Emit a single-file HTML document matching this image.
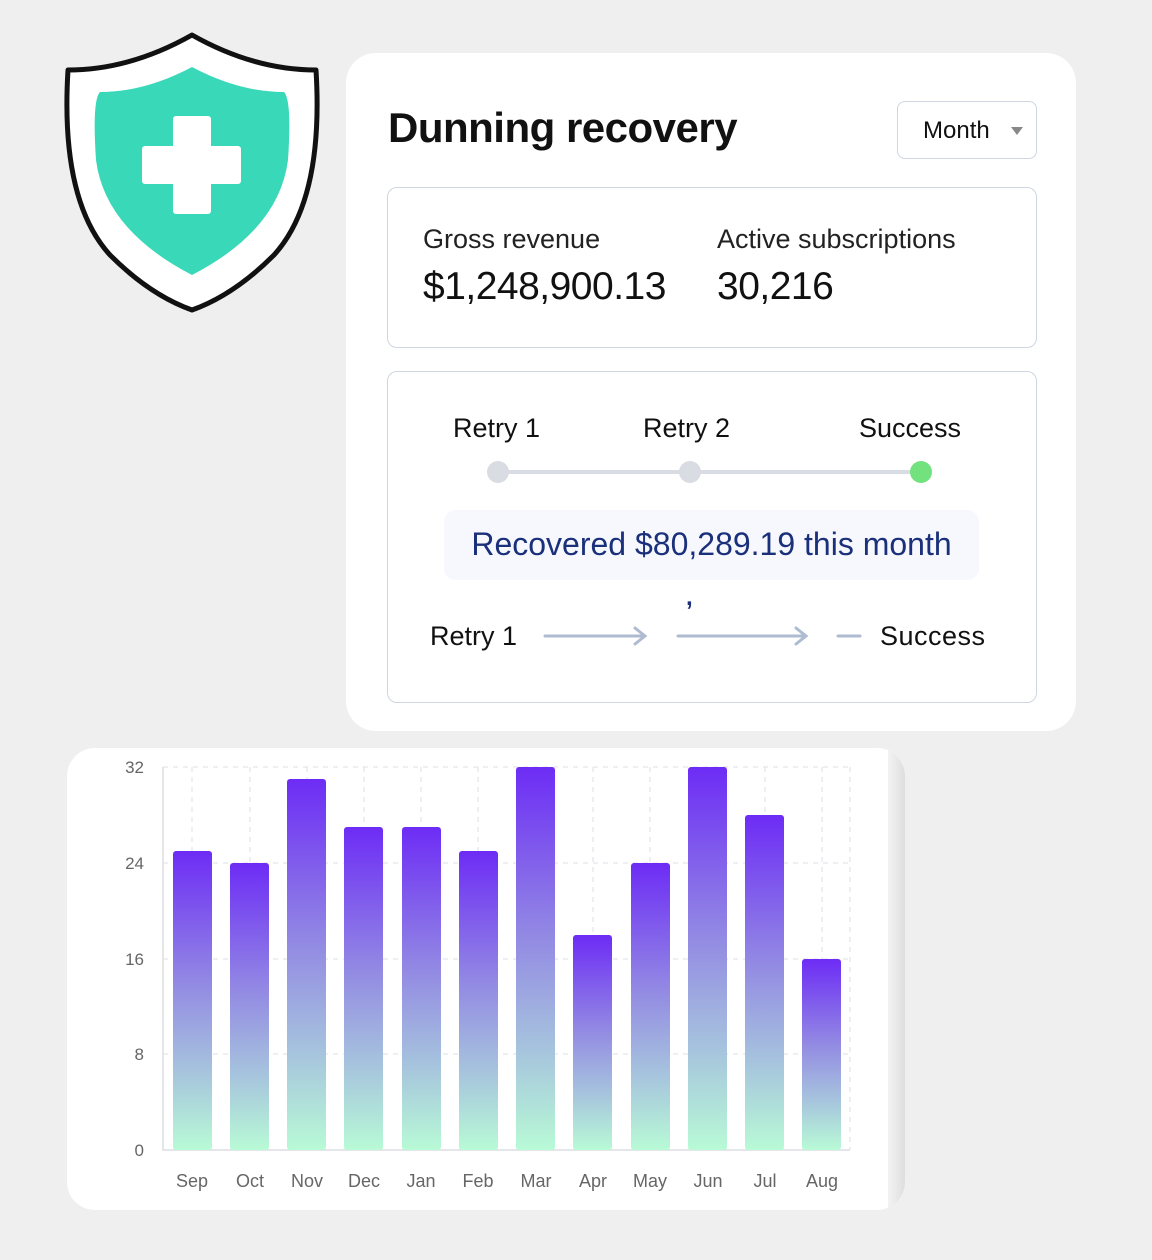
<!DOCTYPE html>
<html><head><meta charset="utf-8"><style>
body{margin:0;width:1152px;height:1260px;background:#efefef;font-family:"Liberation Sans",sans-serif;position:relative;overflow:hidden}
.a{position:absolute}
</style></head><body>
<svg class="a" style="left:0;top:0" width="340" height="330">
<path d="M192 35 Q130 70 68 70 Q60 200 110 255 Q150 295 192 310 Q234 295 274 255 Q324 200 316 70 Q254 70 192 35Z" fill="#fff" stroke="#111" stroke-width="5" stroke-linejoin="round"/>
<path d="M192 67 Q145 92 100 92 Q92 100 96 160 Q105 230 192 275 Q279 230 288 160 Q292 100 284 92 Q239 92 192 67Z" fill="#38d8b8"/>
<rect x="173" y="116" width="38" height="98" rx="3" fill="#fff"/>
<rect x="142" y="146" width="99" height="38" rx="3" fill="#fff"/>
</svg>
<div class="a" style="left:346px;top:53px;width:730px;height:678px;background:#fff;border-radius:30px"></div>
<div class="a" style="left:388px;top:104px;font-size:42px;font-weight:bold;color:#111;letter-spacing:-0.5px">Dunning recovery</div>
<div class="a" style="left:897px;top:101px;width:140px;height:58px;border:1.5px solid #cfd6e2;border-radius:8px;box-sizing:border-box"></div>
<div class="a" style="left:923px;top:117px;font-size:24px;color:#111">Month</div>
<div class="a" style="left:1011px;top:127px;width:0;height:0;border-left:6px solid transparent;border-right:6px solid transparent;border-top:8px solid #888"></div>
<div class="a" style="left:387px;top:187px;width:650px;height:161px;border:1.5px solid #cfd6e2;border-radius:10px;box-sizing:border-box"></div>
<div class="a" style="left:423px;top:224px;font-size:27px;color:#222">Gross revenue</div>
<div class="a" style="left:717px;top:224px;font-size:27px;color:#222">Active subscriptions</div>
<div class="a" style="left:423px;top:265px;font-size:39px;color:#111;letter-spacing:-0.5px">$1,248,900.13</div>
<div class="a" style="left:717px;top:265px;font-size:39px;color:#111;letter-spacing:-0.5px">30,216</div>
<div class="a" style="left:387px;top:371px;width:650px;height:332px;border:1.5px solid #cfd6e2;border-radius:10px;box-sizing:border-box"></div>
<div class="a" style="left:453px;top:413px;font-size:27px;color:#111">Retry 1</div>
<div class="a" style="left:643px;top:413px;font-size:27px;color:#111">Retry 2</div>
<div class="a" style="left:859px;top:413px;font-size:27px;color:#111">Success</div>
<div class="a" style="left:498px;top:470px;width:422px;height:4px;background:#d8dce3"></div>
<div class="a" style="left:487px;top:461px;width:22px;height:22px;border-radius:50%;background:#d9dce2"></div>
<div class="a" style="left:679px;top:461px;width:22px;height:22px;border-radius:50%;background:#d9dce2"></div>
<div class="a" style="left:910px;top:461px;width:22px;height:22px;border-radius:50%;background:#72e27e"></div>
<div class="a" style="left:444px;top:510px;width:535px;height:70px;background:#f6f8fd;border-radius:12px"></div>
<div class="a" style="left:444px;top:526px;width:535px;text-align:center;font-size:32px;color:#1a307a">Recovered $80,289.19 this month</div>
<div class="a" style="left:686px;top:584px;font-size:24px;font-weight:bold;color:#1a307a">,</div>
<div class="a" style="left:430px;top:621px;font-size:27px;color:#111">Retry 1</div>
<div class="a" style="left:880px;top:621px;font-size:27px;color:#111;letter-spacing:0.5px">Success</div>
<svg class="a" style="left:530px;top:620px" width="340" height="32" fill="none" stroke="#aebbd0" stroke-width="3" stroke-linecap="round">
<path d="M15 16H115M105 8L115 16L105 24M148 16H276M266 8L276 16L266 24M308 16H330"/>
</svg>
<div class="a" style="left:67px;top:748px;width:838px;height:462px;background:#fff;border-radius:28px;overflow:hidden"><div class="a" style="left:821px;top:0;width:17px;height:462px;background:linear-gradient(90deg,#f3f3f3,#dedede)"></div></div>
<svg class="a" style="left:0;top:740px" width="900" height="470">
<defs><linearGradient id="g" x1="0" y1="0" x2="0" y2="1"><stop offset="0" stop-color="#6d2cf5"/><stop offset="0.45" stop-color="#938be3"/><stop offset="0.75" stop-color="#a7c6dd"/><stop offset="1" stop-color="#b8fad6"/></linearGradient></defs>
<g stroke="#dedfe6" stroke-dasharray="5,5" stroke-width="1">
<path d="M163 27H850M163 123H850M163 219H850M163 314H850"/>
<path d="M192 27V410M250 27V410M307 27V410M364 27V410M421 27V410M478 27V410M536 27V410M593 27V410M650 27V410M708 27V410M765 27V410M822 27V410M850 27V410"/>
</g>
<path d="M163 27V410H850" stroke="#dcdde3" stroke-width="1.5" fill="none"/>
<g fill="url(#g)">
<rect x="173" y="111" width="39" height="299" rx="3"/>
<rect x="230" y="123" width="39" height="287" rx="3"/>
<rect x="287" y="39" width="39" height="371" rx="3"/>
<rect x="344" y="87" width="39" height="323" rx="3"/>
<rect x="402" y="87" width="39" height="323" rx="3"/>
<rect x="459" y="111" width="39" height="299" rx="3"/>
<rect x="516" y="27" width="39" height="383" rx="3"/>
<rect x="573" y="195" width="39" height="215" rx="3"/>
<rect x="631" y="123" width="39" height="287" rx="3"/>
<rect x="688" y="27" width="39" height="383" rx="3"/>
<rect x="745" y="75" width="39" height="335" rx="3"/>
<rect x="802" y="219" width="39" height="191" rx="3"/>
</g>
<g font-size="17" fill="#666" text-anchor="end"><text x="144" y="33">32</text><text x="144" y="129">24</text><text x="144" y="225">16</text><text x="144" y="320">8</text><text x="144" y="416">0</text></g>
<g font-size="18" fill="#666" text-anchor="middle"><text x="192" y="447">Sep</text><text x="250" y="447">Oct</text><text x="307" y="447">Nov</text><text x="364" y="447">Dec</text><text x="421" y="447">Jan</text><text x="478" y="447">Feb</text><text x="536" y="447">Mar</text><text x="593" y="447">Apr</text><text x="650" y="447">May</text><text x="708" y="447">Jun</text><text x="765" y="447">Jul</text><text x="822" y="447">Aug</text></g>
</svg>
</body></html>
